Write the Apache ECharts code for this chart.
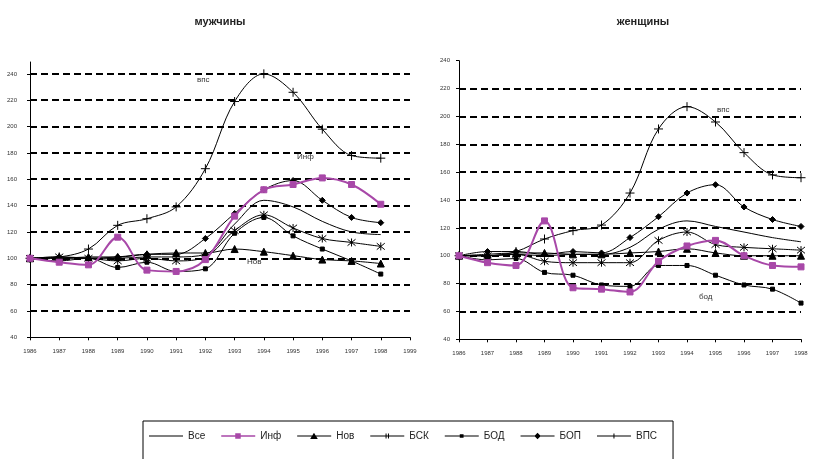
<!DOCTYPE html>
<html><head><meta charset="utf-8">
<script src="https://cdn.jsdelivr.net/npm/echarts@6/dist/echarts.min.js"></script>
<style>html,body{margin:0;padding:0;background:#fff}#c{width:815px;height:459px}</style>
</head><body><div id="c"></div>
<script>
const yearsMen = ['1986','1987','1988','1989','1990','1991','1992','1993','1994','1995','1996','1997','1998','1999'];
const yearsWomen = ['1986','1987','1988','1989','1990','1991','1992','1993','1994','1995','1996','1997','1998'];
const seriesNames = ['Все','Инф','Нов','БСК','БОД','БОП','ВПС'];

// мужчины
const menAll = [100,100,100,100,101,101,103,126,144,139,128,120,118];
const menInf = [100,97,95,116,91,90,99,132,152,156,161,156,141];
const menNov = [100,100,101,101,103,104,104,107,105,102,99,98,96];
const menBSK = [100,101,100,98,100,98,101,121,133,123,115,112,109];
const menBOD = [100,98,100,93,97,90,92,119,131,117,107,98,88];
const menBOP = [100,101,100,101,103,103,115,134,152,159,144,131,127];
const menVPS = [100,101,107,125,130,139,168,219,240,226,198,178,176];

// женщины
const womAll = [100,100,101,100,101,101,106,119,125,121,117,113,110];
const womInf = [100,95,93,125,77,76,74,96,107,111,100,93,92];
const womNov = [100,101,102,102,101,101,102,103,105,102,100,100,100];
const womBSK = [100,100,101,96,95,95,95,111,117,108,106,105,104];
const womBOD = [100,97,98,88,86,79,78,93,93,86,79,76,66];
const womBOP = [100,103,103,101,103,102,113,128,145,151,135,126,121];
const womVPS = [100,100,103,112,118,122,145,191,207,196,174,158,156];

const PURPLE = '#a848a8';
const PLUS = 'path://M0,5L10,5M5,0L5,10';
const STAR = 'path://M1,1L9,9M9,1L1,9M5,0L5,10';

// legend icons (line + marker), drawn in a 34x8 box
const SPECK = 'M0,0L0.01,0L0,0.01Z M34,8L33.99,8L34,7.99Z ';
const LINE = 'M0,3.5L34,3.5L34,4.5L0,4.5Z ';
const icons = {
  'Все': 'path://' + SPECK + LINE,
  'Инф': 'path://' + SPECK + 'M0,3.2L34,3.2L34,4.8L0,4.8Z M14,1.3L19.5,1.3L19.5,6.7L14,6.7Z',
  'Нов': 'path://' + SPECK + LINE + 'M13,7L16.8,0.8L20.6,7Z',
  'БСК': 'path://' + SPECK + LINE + 'M15.3,1.5L16.3,1.5L16.3,6.5L15.3,6.5Z M17.7,1.5L18.7,1.5L18.7,6.5L17.7,6.5Z',
  'БОД': 'path://' + SPECK + LINE + 'M15,2.2L18.8,2.2L18.8,5.8L15,5.8Z',
  'БОП': 'path://' + SPECK + LINE + 'M17,0.8L20.2,4L17,7.2L13.8,4Z',
  'ВПС': 'path://' + SPECK + LINE + 'M16.5,1.5L17.5,1.5L17.5,6.5L16.5,6.5Z'
};

const styles = {
  'Все': {symbol:'none', symbolSize:0, color:'#000', width:1},
  'Инф': {symbol:'rect', symbolSize:6, color:PURPLE, width:2},
  'Нов': {symbol:'triangle', symbolSize:7, color:'#000', width:1},
  'БСК': {symbol:STAR, symbolSize:8, color:'#000', width:1},
  'БОД': {symbol:'rect', symbolSize:4, color:'#000', width:1},
  'БОП': {symbol:'diamond', symbolSize:6, color:'#000', width:1},
  'ВПС': {symbol:PLUS, symbolSize:9, color:'#000', width:1}
};

function mk(name, data, idx) {
  const s = styles[name];
  return {
    name: name, type: 'line', xAxisIndex: idx, yAxisIndex: idx,
    data: data, smooth: 0.35, symbol: s.symbol, symbolSize: s.symbolSize,
    showSymbol: s.symbol !== 'none',
    lineStyle: {color: s.color, width: s.width},
    itemStyle: {color: s.color, borderColor: s.color, borderWidth: 1},
    emphasis: {disabled: true}, animation: false, z: name === 'Инф' ? 3 : 2
  };
}

const menData = [menAll, menInf, menNov, menBSK, menBOD, menBOP, menVPS];
const womData = [womAll, womInf, womNov, womBSK, womBOD, womBOP, womVPS];
const series = [];
seriesNames.forEach((n,i)=>series.push(mk(n, menData[i], 0)));
seriesNames.forEach((n,i)=>series.push(mk(n, womData[i], 1)));

const gridLine = {show:true, showMinLine:false, lineStyle:{color:'#000', type:[7,4], width:1.8}};
const axisTxt = {fontSize:6, color:'#333', fontFamily:'Liberation Sans'};

const option = {
  animation: false,
  backgroundColor: '#fff',
  title: [
    {text:'мужчины', left:215, top:11, textAlign:'center', textStyle:{fontSize:11, fontWeight:'bold', color:'#222', fontFamily:'Liberation Sans'}},
    {text:'женщины', left:638, top:11, textAlign:'center', textStyle:{fontSize:11, fontWeight:'bold', color:'#222', fontFamily:'Liberation Sans'}}
  ],
  grid: [
    {left:30, right:405, top:62, bottom:121.7, containLabel:false},
    {left:459, right:14, top:60.7, bottom:119.7, containLabel:false}
  ],
  xAxis: [
    {type:'category', gridIndex:0, data:yearsMen, boundaryGap:false,
     axisLine:{lineStyle:{color:'#000', width:1}}, axisTick:{show:true, length:3, lineStyle:{color:'#000'}},
     axisLabel:Object.assign({margin:11, interval:0}, axisTxt), splitLine:{show:false}},
    {type:'category', gridIndex:1, data:yearsWomen, boundaryGap:false,
     axisLine:{lineStyle:{color:'#000', width:1}}, axisTick:{show:true, length:3, lineStyle:{color:'#000'}},
     axisLabel:Object.assign({margin:11, interval:0}, axisTxt), splitLine:{show:false}}
  ],
  yAxis: [
    {type:'value', gridIndex:0, min:40, max:249, interval:20,
     axisLine:{show:true, lineStyle:{color:'#000', width:1}}, axisTick:{show:true, length:3, lineStyle:{color:'#000'}},
     axisLabel:Object.assign({margin:13, showMaxLabel:false}, axisTxt),
     splitLine:Object.assign({showMaxLine:false}, gridLine)},
    {type:'value', gridIndex:1, min:40, max:240, interval:20,
     axisLine:{show:true, lineStyle:{color:'#000', width:1}}, axisTick:{show:true, length:3, lineStyle:{color:'#000'}},
     axisLabel:Object.assign({margin:9}, axisTxt),
     splitLine:Object.assign({showMaxLine:false}, gridLine)}
  ],
  legend: {
    data: seriesNames.map(n => ({name:n, icon:icons[n]})),
    left:143, top:421, orient:'horizontal',
    itemWidth:34, itemHeight:8, itemGap:16,
    padding:[10,16,40,6],
    borderColor:'#000', borderWidth:1,
    itemStyle:{borderWidth:0},
    textStyle:{fontSize:10, color:'#222', fontFamily:'Liberation Sans'},
    selectedMode:false
  },
  graphic: [
    {type:'text', left:197, top:76, style:{text:'впс', fontSize:8, fill:'#333', fontFamily:'Liberation Sans'}},
    {type:'text', left:297, top:153, style:{text:'Инф', fontSize:8, fill:'#333', fontFamily:'Liberation Sans'}},
    {type:'text', left:247, top:258, style:{text:'Нов', fontSize:8, fill:'#333', fontFamily:'Liberation Sans'}},
    {type:'text', left:717, top:106, style:{text:'впс', fontSize:8, fill:'#333', fontFamily:'Liberation Sans'}},
    {type:'text', left:699, top:293, style:{text:'бод', fontSize:8, fill:'#333', fontFamily:'Liberation Sans'}}
  ],
  series: series
};
echarts.init(document.getElementById('c'), null, {renderer:'canvas'}).setOption(option);
</script>
</body></html>
